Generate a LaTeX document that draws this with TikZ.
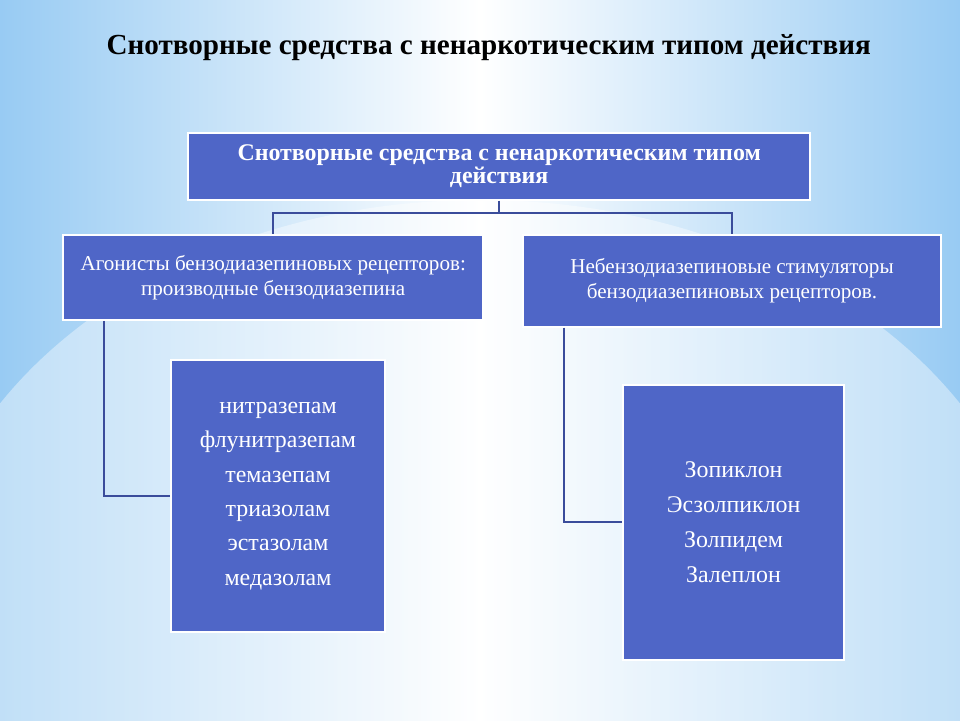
\documentclass[tikz,border=0pt]{standalone}
\usepackage{fontspec}
\setmainfont{Liberation Serif}
\usetikzlibrary{positioning}

\definecolor{boxblue}{RGB}{79,102,199}
\definecolor{linkblue}{RGB}{58,76,155}
\definecolor{skyblue}{RGB}{152,203,243}

\tikzset{
  card/.style={draw=white, line width=1.2pt, fill=boxblue, text=white, align=center, inner sep=2pt},
  link/.style={draw=linkblue, line width=1.4pt},
}

\begin{document}
\begin{tikzpicture}

        % Draw the background
        \useasboundingbox (0,0) rectangle (24,18);
        \shade[left color=skyblue, right color=skyblue, middle color=white] (0,0) rectangle (24,18);
        \begin{scope}
            \clip (0,0) rectangle (24,18);
            \fill[white, opacity=0.4] (12,2.5) ellipse (14 and 10.5);
        \end{scope}

        % Title of the slide
        \node[font=\bfseries\fontsize{20.7}{24}\selectfont] (title) at (12.22,16.82)
            {Снотворные средства с ненаркотическим типом действия};

        % Boxes of the scheme
        \node[card, minimum width=15.55cm, minimum height=1.675cm,
              font=\bfseries\fontsize{17}{16.5}\selectfont] (hypn) at (12.48,13.84)
            {Снотворные средства с ненаркотическим типом\\действия};
        \node[card, minimum width=10.5cm, minimum height=2.125cm,
              font=\fontsize{15}{17.7}\selectfont] (agon) at (6.83,11.06)
            {Агонисты бензодиазепиновых рецепторов:\\производные бензодиазепина};
        \node[card, minimum width=10.45cm, minimum height=2.3cm,
              font=\fontsize{15}{17.7}\selectfont] (nonbz) at (18.3,10.98)
            {Небензодиазепиновые стимуляторы\\бензодиазепиновых рецепторов.};
        \node[card, minimum width=5.35cm, minimum height=6.8cm,
              font=\fontsize{17}{24.5}\selectfont] (bzlist) at (6.95,5.6)
            {нитразепам\\флунитразепам\\темазепам\\триазолам\\эстазолам\\медазолам};
        \node[card, minimum width=5.525cm, minimum height=6.875cm,
              font=\fontsize{17}{24.8}\selectfont] (zlist) at (18.34,4.94)
            {Зопиклон\\Эсзолпиклон\\Золпидем\\Залеплон};

        % Draw the connectors
        \draw[link] (hypn.south) -- ++(0,-0.3) coordinate (fork) -| (agon.north);
        \draw[link] (fork) -| (nonbz.north);
        \draw[link] (agon.south west) ++(1.05,0) |- (bzlist.west);
        \draw[link] (nonbz.south west) ++(1.05,0) |- (zlist.west);
    \end{tikzpicture}
\end{document}
